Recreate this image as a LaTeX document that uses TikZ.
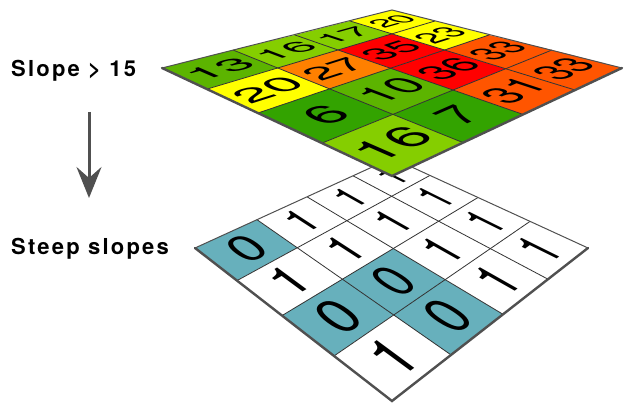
\documentclass[tikz,border=0pt]{standalone}
\usepackage{fontspec}
\setmainfont{TeX Gyre Heros}
\usetikzlibrary{arrows.meta}
\definecolor{gA}{HTML}{33A300}
\definecolor{gB}{HTML}{5CB400}
\definecolor{gC}{HTML}{85CE00}
\definecolor{yA}{HTML}{FFFF00}
\definecolor{oA}{HTML}{FF8000}
\definecolor{oB}{HTML}{FF5500}
\definecolor{rA}{HTML}{FF0000}
\definecolor{tA}{HTML}{67B0BC}
\definecolor{wA}{HTML}{FFFFFF}
\definecolor{edgeC}{HTML}{505050}
\tikzset{
  label/.style={anchor=base west,inner sep=0pt,font=\fontsize{22}{26}\bfseries\addfontfeatures{LetterSpace=10}},
  digit/.style={inner sep=0pt,outer sep=0pt,font=\fontsize{10}{12}\selectfont,text=black},
  flowarrow/.style={draw=edgeC,line width=3pt,-{Stealth[length=31pt,width=25pt,inset=11pt]}},
  inner line/.style={draw=black!80,line width=0.8pt},
  thin edge/.style={draw=edgeC,line width=1pt,line cap=round},
  thick edge/.style={draw=edgeC,line width=2.4pt,line cap=round}
}
% boundary points of a plane, then the inner points as crossings of straight lines
\newcommand\boundary[1]{%
  \foreach \n/\x/\y in {#1}{\coordinate (\n) at (\x,{403-\y});}}
\newcommand\innerpoints[1]{%
  \foreach \i in {1,2,3}{\foreach \j in {1,2,3}{%
    \coordinate (#1-\i-\j) at (intersection cs:first line={(#1-\i-0)--(#1-\i-4)},second line={(#1-0-\j)--(#1-4-\j)});}}}
\newcommand\getxy[3]{\pgfpointanchor{#1}{center}\pgfgetlastxy{#2}{#3}}
% #1 prefix, #2 sx, #3 sy, #4 list r/c/text/colour
\newcommand\cells[4]{%
  \foreach \r/\c/\t/\k in {#4}{%
    \pgfmathtruncatemacro\ra{\r+1}\pgfmathtruncatemacro\ca{\c+1}%
    \fill[\k] (#1-\c-\r) -- (#1-\ca-\r) -- (#1-\ca-\ra) -- (#1-\c-\ra) -- cycle;}
  \foreach \i in {1,2,3}{%
    \draw[inner line] (#1-\i-0) -- (#1-\i-4);
    \draw[inner line] (#1-0-\i) -- (#1-4-\i);}
  \draw[thin edge] (#1-0-0) -- (#1-4-0) -- (#1-4-4);
  \draw[thick edge] (#1-0-0) -- (#1-0-4) -- (#1-4-4);
  \foreach \r/\c/\t/\k in {#4}{%
    \pgfmathtruncatemacro\ra{\r+1}\pgfmathtruncatemacro\ca{\c+1}%
    \getxy{#1-\c-\r}{\xa}{\ya}\getxy{#1-\ca-\r}{\xb}{\yb}%
    \getxy{#1-\ca-\ra}{\xc}{\yc}\getxy{#1-\c-\ra}{\xd}{\yd}%
    \pgfmathsetmacro\mx{(\xa+\xb+\xc+\xd)/4}\pgfmathsetmacro\my{(\ya+\yb+\yc+\yd)/4}%
    \pgfmathsetmacro\ux{(\xb+\xc-\xa-\xd)*2*#2}\pgfmathsetmacro\uy{(\yb+\yc-\ya-\yd)*2*#2}%
    \pgfmathsetmacro\vx{(\xa+\xb-\xc-\xd)*2*#3}\pgfmathsetmacro\vy{(\ya+\yb-\yc-\yd)*2*#3}%
    \node[digit,cm={\ux,\uy,\vx,\vy,(\mx,\my)}] (#1n-\r-\c) at (0,0) {\t};}}
\begin{document}
\begin{tikzpicture}[x=1pt,y=1pt]
\useasboundingbox (0,0) rectangle (625,403);
\fill[white] (0,0) rectangle (625,403);
% lower plane
\boundary{B-0-0/195/248,B-1-0/257/219.7,B-2-0/307/196.8,B-3-0/353/175.8,B-4-0/392/158,
 B-4-1/430/175.4,B-4-2/478/197.5,B-4-3/530/221.4,B-4-4/588/248,
 B-3-4/548/279.2,B-2-4/503/314.3,B-1-4/451/354.9,B-0-4/392/401,
 B-0-3/334/356,B-0-2/282/315.6,B-0-1/237/280.6}
\innerpoints{B}
\cells{B}{0.0185}{0.023}{0/0/0/tA,0/1/1/wA,0/2/1/wA,0/3/1/wA,
 1/0/1/wA,1/1/1/wA,1/2/1/wA,1/3/1/wA,
 2/0/0/tA,2/1/0/tA,2/2/1/wA,2/3/1/wA,
 3/0/1/wA,3/1/0/tA,3/2/1/wA,3/3/1/wA}
% upper plane
\boundary{T-0-0/162/68,T-1-0/233/50,T-2-0/295/35,T-3-0/350/21,T-4-0/392/10,
 T-4-1/435/21,T-4-2/489/35,T-4-3/552/50,T-4-4/622/68,
 T-3-4/575/90,T-2-4/523/114.4,T-1-4/463/142.6,T-0-4/392/176,
 T-0-3/322/143.1,T-0-2/258/113,T-0-1/207/89.1}
\innerpoints{T}
\cells{T}{0.0185}{0.016}{0/0/13/gB,0/1/16/gC,0/2/17/gC,0/3/20/yA,
 1/0/20/yA,1/1/27/oA,1/2/35/rA,1/3/23/yA,
 2/0/6/gA,2/1/10/gB,2/2/36/rA,2/3/33/oB,
 3/0/16/gC,3/1/7/gA,3/2/31/oB,3/3/33/oB}
% labels and arrow
\node[label] (slope) at (11,326) {Slope > 15};
\node[label] (steep) at (11,148) {Steep slopes};
\coordinate (arrowstart) at (89,291);
\coordinate (arrowend) at (89,205);
\draw[flowarrow] (arrowstart) -- (arrowend);
\end{tikzpicture}
\end{document}
